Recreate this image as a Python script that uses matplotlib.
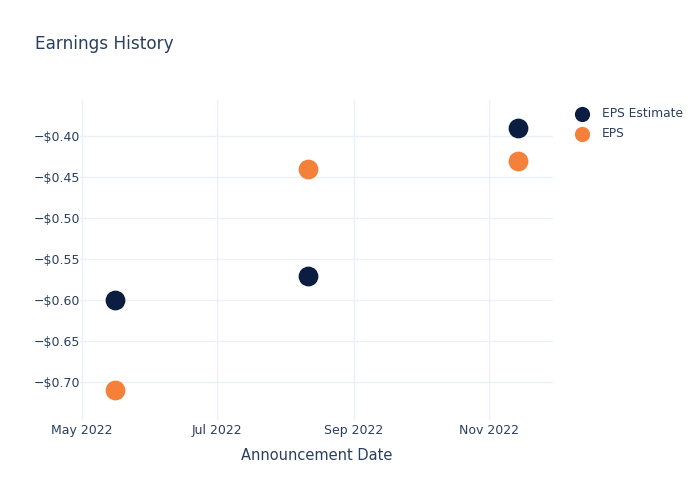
import numpy as np
import pandas as pd
import matplotlib.pyplot as plt
import matplotlib.dates as mdates
from matplotlib.ticker import FuncFormatter

dates = pd.to_datetime(["2022-05-16", "2022-08-11", "2022-11-14"])
eps_estimate = [-0.60, -0.57, -0.39]
eps_actual = [-0.71, -0.44, -0.43]

text_color = '#2a3f5f'
grid_color = '#ebf0f8'

fig = plt.figure(figsize=(7, 5), dpi=100)
ax = fig.add_axes([80/700, 0.16, 473/700, 0.64])

ax.scatter(dates, eps_estimate, s=175, color='#0b1d40', label='EPS Estimate', zorder=3)
ax.scatter(dates, eps_actual, s=175, color='#f5803a', label='EPS', zorder=3)

ax.set_xlim(pd.Timestamp("2022-04-30"), pd.Timestamp("2022-11-30"))
ax.set_ylim(-0.746, -0.356)
ax.set_yticks(np.arange(-0.70, -0.39, 0.05))
ax.yaxis.set_major_formatter(FuncFormatter(lambda v, p: f"\u2212${abs(v):.2f}"))
ax.xaxis.set_major_locator(mdates.MonthLocator(bymonth=[5, 7, 9, 11]))
ax.xaxis.set_major_formatter(mdates.DateFormatter('%b %Y'))

ax.grid(True, color=grid_color, linewidth=1)
ax.set_axisbelow(True)
for s in ax.spines.values():
    s.set_visible(False)
ax.tick_params(length=0, labelsize=9, colors=text_color)
ax.tick_params(axis='x', pad=3)
ax.tick_params(axis='y', pad=0)
ax.set_xlabel('Announcement Date', fontsize=10.5, color=text_color, labelpad=8)

fig.text(35/700, 1 - 44/500, 'Earnings History', fontsize=12.2, color=text_color, va='center')

leg = fig.legend(loc='upper left', bbox_to_anchor=(559/700, 1 - 96/500), frameon=False,
                 fontsize=8.8, labelcolor=text_color, handletextpad=0.6, labelspacing=0.6,
                 markerscale=0.75)

plt.savefig('out.png', dpi=100)
